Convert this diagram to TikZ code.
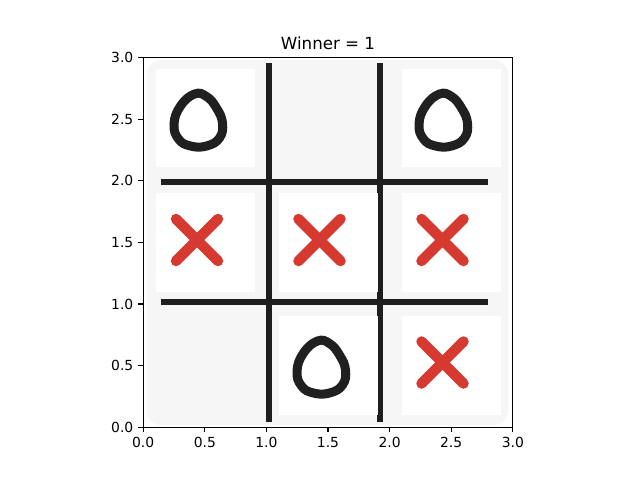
\documentclass[tikz,border=0pt]{standalone}
\usepackage{fontspec}
\setmainfont{DejaVu Sans}
\definecolor{bggray}{RGB}{246,246,246}
\definecolor{gridc}{RGB}{30,30,30}
\definecolor{xred}{RGB}{214,57,47}
\definecolor{ocol}{RGB}{32,32,32}
\begin{document}
\begin{tikzpicture}[x=1pt,y=-1pt,
  gridline/.style={draw=gridc,line width=6pt},
  cell/.style={fill=white,draw=none},
  xstroke/.style={draw=xred,line width=10.5pt,line cap=round},
  ostroke/.style={draw=ocol,line width=9pt},
  spine/.style={draw=black,line width=1.11pt},
  tickmark/.style={draw=black,line width=1.11pt},
  ticklab/.style={inner sep=0pt,font=\fontsize{13.89}{16.67}\selectfont},
  titlelab/.style={inner sep=0pt,font=\fontsize{16.67}{20}\selectfont},
  opic/.pic={\draw[ostroke] plot[smooth cycle,tension=0.75] coordinates {(-4,-26) (8,-23.5) (18,-12) (24,3) (21,18) (8,26) (-8,26) (-20,19) (-24.5,4) (-18,-14)};},
  xpic/.pic={\draw[xstroke] (-21,-21) -- (21,21); \draw[xstroke] (21,-21) -- (-21,21);}
]
\useasboundingbox (0,0) rectangle (640,480);
% image background
\fill[bggray,rounded corners=15pt] (146.5,60) rectangle (508.5,425);
% grid lines
\draw[gridline] (268.5,63) -- (268.5,422);
\draw[gridline] (379.5,63) -- (379.5,422);
\draw[gridline] (161,182) -- (488,182);
\draw[gridline] (161,302) -- (488,302);
% white cells
\fill[cell] (156,69) rectangle (255,167);
\fill[cell] (402,69) rectangle (501,167);
\fill[cell] (156,193) rectangle (255,292);
\fill[cell] (279,193) rectangle (378,292);
\fill[cell] (402,193) rectangle (501,292);
\fill[cell] (279,316) rectangle (378,414.5);
\fill[cell] (402,316) rectangle (501,414.5);
% marks
\pic at (198.5,120) {opic};
\pic at (443.5,120) {opic};
\pic at (321.5,367) {opic};
\pic at (197,240) {xpic};
\pic at (319.5,240) {xpic};
\pic at (442.5,240) {xpic};
\pic at (442.5,362.5) {xpic};
% axes frame
\draw[spine] (143.2,57.6) rectangle (512.8,427.2);
% ticks and labels
\foreach \k/\lab in {0/0.0,1/0.5,2/1.0,3/1.5,4/2.0,5/2.5,6/3.0}{
  \draw[tickmark] (143.2+61.6*\k,427.2) -- (143.2+61.6*\k,432.06);
  \node[ticklab,anchor=north] (xl\k) at (143.2+61.6*\k,436.9) {\lab};
  \draw[tickmark] (143.2,427.2-61.6*\k) -- (138.34,427.2-61.6*\k);
  \node[ticklab,anchor=east] (yl\k) at (133.5,427.2-61.6*\k) {\lab};
}
\node[titlelab,anchor=base] (title) at (328,49.3) {Winner = 1};
\end{tikzpicture}
\end{document}
